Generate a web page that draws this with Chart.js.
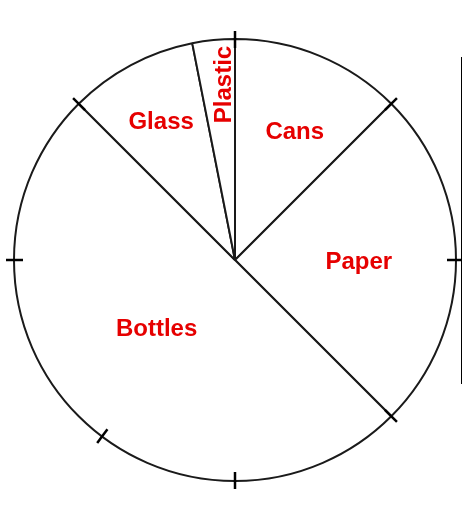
<!DOCTYPE html>
<html>
<head>
<meta charset="utf-8">
<script src="https://cdn.jsdelivr.net/npm/chart.js@4"></script>
<style>
html,body{margin:0;padding:0;background:#fff;}
#wrap{width:462px;height:512px;}
</style>
</head>
<body>
<div id="wrap"><canvas id="c" width="462" height="512"></canvas></div>
<script>
const categories = ['Cans', 'Paper', 'Bottles', 'Glass', 'Plastic'];
const values = [12.5, 25, 50, 9.4, 3.1];
const tickAngles = [0, 45, 90, 135, 180, 217, 270, 315];

const labelCfg = {
  Cans:    {r: 0.64, rot: 0, da: 2.5},
  Paper:   {r: 0.56, rot: 0, da: 0.5},
  Bottles: {r: 0.47, rot: 0, da: 4},
  Glass:   {r: 0.71, rot: 0, da: 0},
  Plastic: {r: 0.80, rot: -Math.PI / 2, da: 2}
};

const overlay = {
  id: 'overlay',
  afterDatasetsDraw(chart) {
    const ctx = chart.ctx;
    const meta = chart.getDatasetMeta(0);
    const arc0 = meta.data[0];
    const cx = arc0.x, cy = arc0.y, R = arc0.outerRadius;
    ctx.save();
    ctx.strokeStyle = '#000';
    ctx.lineWidth = 2.5;
    tickAngles.forEach(a => {
      const t = (a - 90) * Math.PI / 180;
      const c = Math.cos(t), s = Math.sin(t);
      ctx.beginPath();
      ctx.moveTo(cx + (R - 9) * c, cy + (R - 9) * s);
      ctx.lineTo(cx + (R + 8) * c, cy + (R + 8) * s);
      ctx.stroke();
    });
    ctx.lineWidth = 2;
    ctx.beginPath();
    ctx.moveTo(cx + R + 6, cy - R + 18);
    ctx.lineTo(cx + R + 6, cy + R - 97);
    ctx.stroke();
    ctx.fillStyle = '#e60000';
    ctx.textAlign = 'center';
    ctx.textBaseline = 'middle';
    meta.data.forEach((arc, i) => {
      const name = categories[i];
      const cfg = labelCfg[name];
      const mid = (arc.startAngle + arc.endAngle) / 2 + ((cfg.da || 0) * Math.PI / 180);
      const x = cx + Math.cos(mid) * R * cfg.r;
      const y = cy + Math.sin(mid) * R * cfg.r;
      ctx.save();
      ctx.translate(x, y + 1);
      ctx.rotate(cfg.rot);
      ctx.font = 'bold 24px "Liberation Sans", Arial, sans-serif';
      ctx.fillText(name, 0, 0);
      ctx.restore();
    });
    ctx.restore();
  }
};

new Chart(document.getElementById('c'), {
  type: 'pie',
  data: {
    labels: categories,
    datasets: [{
      data: values,
      backgroundColor: '#ffffff',
      borderColor: '#1a1a1a',
      borderWidth: 2,
      radius: 221
    }]
  },
  options: {
    responsive: false,
    animation: false,
    layout: {padding: {left: 14, right: 6, top: 39, bottom: 31}},
    plugins: {legend: {display: false}, tooltip: {enabled: false}}
  },
  plugins: [overlay]
});
</script>
</body>
</html>
